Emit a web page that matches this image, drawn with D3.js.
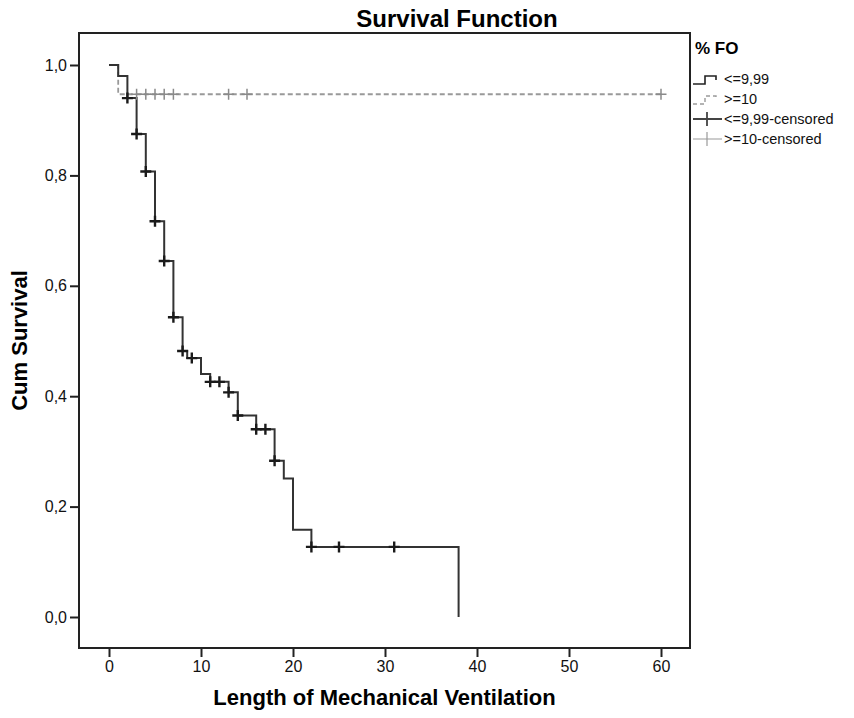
<!DOCTYPE html>
<html>
<head>
<meta charset="utf-8">
<script src="https://cdn.jsdelivr.net/npm/d3@7"></script>
<style>
  body { margin: 0; background: #fff; }
  text { font-family: "Liberation Sans", Arial, sans-serif; }
</style>
</head>
<body>
<div id="chart"></div>
<script>
// <=9,99 group: step points [time, cum survival]
var lowSteps = [[0,1],[1,0.98],[2,0.94],[3,0.875],[4,0.807],[5,0.717],[6,0.645],[7,0.543],
  [8,0.482],[8.5,0.469],[10,0.44],[11,0.426],[13,0.407],[14,0.365],[16,0.34],[18,0.283],
  [19,0.251],[20,0.158],[22,0.127],[38,0]];
var lowCensored = [[2,0.94],[3,0.875],[4,0.807],[5,0.717],[6,0.645],[7,0.543],[8,0.482],
  [9,0.469],[11,0.426],[12,0.426],[13,0.407],[14,0.365],[16,0.34],[17,0.34],[18,0.283],
  [22,0.127],[25,0.127],[31,0.127]];
// >=10 group
var highSteps = [[0,1],[1,0.947],[60,0.947]];
var highCensored = [[3,0.947],[4,0.947],[5,0.947],[6,0.947],[7,0.947],[13,0.947],[15,0.947],[60,0.947]];

var xTicks = [0,10,20,30,40,50,60];
var yTicks = [0,0.2,0.4,0.6,0.8,1.0];
var legendLabels = ["<=9,99", ">=10", "<=9,99-censored", ">=10-censored"];

var width = 854, height = 718;
var box = {left: 79, right: 690, top: 33, bottom: 648};

var svg = d3.select("#chart").append("svg")
  .attr("width", width).attr("height", height);

var x = d3.scaleLinear().domain([0, 60]).range([109, 661]);
var y = d3.scaleLinear().domain([0, 1]).range([617, 65]);

// frame
svg.append("rect")
  .attr("x", box.left).attr("y", box.top)
  .attr("width", box.right - box.left).attr("height", box.bottom - box.top)
  .attr("fill", "none").attr("stroke", "#222").attr("stroke-width", 2);

// axes
var fmt = function(d){ return d3.format(".1f")(d).replace(".", ","); };
var yAxis = svg.append("g")
  .attr("transform", "translate(" + box.left + ",0)")
  .call(d3.axisLeft(y).tickValues(yTicks).tickFormat(fmt).tickSize(9).tickPadding(3));
var xAxis = svg.append("g")
  .attr("transform", "translate(0," + box.bottom + ")")
  .call(d3.axisBottom(x).tickValues(xTicks).tickSize(9).tickPadding(4));
[xAxis, yAxis].forEach(function(a){
  a.select(".domain").remove();
  a.selectAll(".tick line").attr("stroke", "#222").attr("stroke-width", 2);
  a.selectAll(".tick text").attr("fill", "#111")
    .style("font-family", "'Liberation Sans', Arial, sans-serif").style("font-size", "16px");
});

// curves
var line = d3.line()
  .x(function(d){ return x(d[0]); })
  .y(function(d){ return y(d[1]); })
  .curve(d3.curveStepAfter);

svg.append("path").datum(highSteps)
  .attr("d", line).attr("fill", "none")
  .attr("stroke", "#999").attr("stroke-width", 1.8).attr("stroke-dasharray", "5,3");

svg.append("path").datum(lowSteps)
  .attr("d", line).attr("fill", "none")
  .attr("stroke", "#333").attr("stroke-width", 2);

function plus(g, data, size, color, sw){
  g.selectAll("g").data(data).enter().append("path")
    .attr("d", function(d){
      var cx = x(d[0]), cy = y(d[1]);
      return "M" + (cx - size) + "," + cy + "H" + (cx + size) +
             "M" + cx + "," + (cy - size) + "V" + (cy + size);
    })
    .attr("stroke", color).attr("stroke-width", sw).attr("fill", "none");
}
plus(svg.append("g"), highCensored, 5.5, "#8a8a8a", 1.5);
plus(svg.append("g"), lowCensored, 5.5, "#1a1a1a", 2.4);

// titles
svg.append("text").attr("x", 457).attr("y", 27)
  .attr("text-anchor", "middle").style("font-size", "24px").style("font-weight", "bold")
  .text("Survival Function");
svg.append("text").attr("x", (box.left + box.right) / 2).attr("y", 705)
  .attr("text-anchor", "middle").style("font-size", "22px").style("font-weight", "bold")
  .text("Length of Mechanical Ventilation");
svg.append("text")
  .attr("transform", "translate(27," + (box.top + box.bottom) / 2 + ") rotate(-90)")
  .attr("text-anchor", "middle").style("font-size", "22px").style("font-weight", "bold")
  .text("Cum Survival");

// legend
var lg = svg.append("g").attr("transform", "translate(693,0)");
lg.append("text").attr("x", 2).attr("y", 54)
  .style("font-size", "17px").style("font-weight", "bold").text("% FO");
var rowY = [79, 99, 119, 139];
var stepSym = "M0,5H12V-3H23V1";
lg.append("path").attr("d", stepSym).attr("transform", "translate(0," + rowY[0] + ")")
  .attr("fill", "none").attr("stroke", "#222").attr("stroke-width", 1.6);
lg.append("path").attr("d", stepSym).attr("transform", "translate(0," + rowY[1] + ")")
  .attr("fill", "none").attr("stroke", "#9a9a9a").attr("stroke-width", 1.4)
  .attr("stroke-dasharray", "4,3");
lg.append("path").attr("d", "M0,0H29M14,-7V7").attr("transform", "translate(0," + rowY[2] + ")")
  .attr("fill", "none").attr("stroke", "#444").attr("stroke-width", 1.8);
lg.append("path").attr("d", "M0,0H29M14,-7V7").attr("transform", "translate(0," + rowY[3] + ")")
  .attr("fill", "none").attr("stroke", "#9a9a9a").attr("stroke-width", 1.2);
lg.selectAll("text.lab").data(legendLabels).enter().append("text")
  .attr("class", "lab")
  .attr("x", 31).attr("y", function(d, i){ return rowY[i] + 5; })
  .style("font-size", "14.5px").attr("fill", "#111")
  .text(function(d){ return d; });
</script>
</body>
</html>
